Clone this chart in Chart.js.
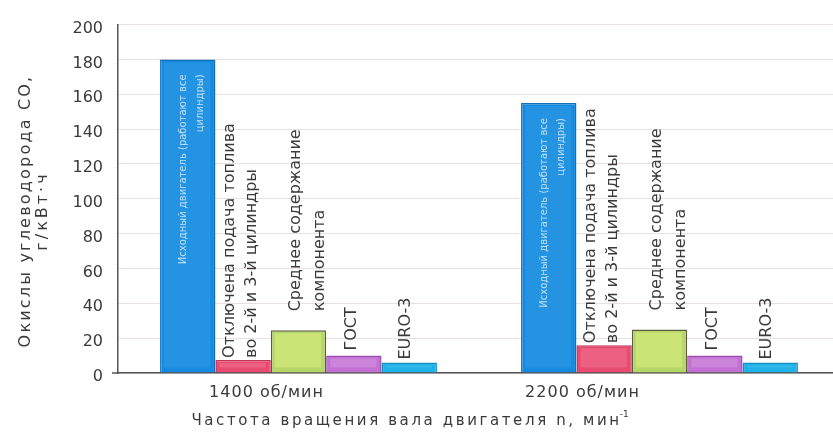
<!DOCTYPE html>
<html>
<head>
<meta charset="utf-8">
<script src="https://cdn.jsdelivr.net/npm/chart.js@4.4.1/dist/chart.umd.min.js"></script>
<style>
  html, body { margin: 0; padding: 0; background: #ffffff; overflow: hidden; }
  #wrap { width: 833px; height: 439px; overflow: hidden; }
</style>
</head>
<body>
<div id="wrap"><canvas id="c" width="840" height="439"></canvas></div>
<script>
// ---- data ----
const categories = ['1400 об/мин', '2200 об/мин'];
const seriesNames = [
  'Исходный двигатель (работают все цилиндры)',
  'Отключена подача топлива во 2-й и 3-й цилиндры',
  'Среднее содержание компонента',
  'ГОСТ',
  'EURO-3'
];
const seriesLabelLines = [
  ['Исходный двигатель (работают все', 'цилиндры)'],
  ['Отключена подача топлива', 'во 2-й и 3-й цилиндры'],
  ['Среднее содержание', 'компонента'],
  ['ГОСТ'],
  ['EURO-3']
];
const baseEngine   = [180, 155];
const cutOffFuel   = [7.5, 16];
const avgComponent = [24.5, 25];
const gost         = [10, 10];
const euro3        = [6, 6];
const yTicks = { min: 0, max: 200, step: 20 };
const yTitleLines = ['Окислы углеводорода СО,', 'г/кВт·ч'];
const xTitle = 'Частота вращения вала двигателя n, мин';
const xTitleSup = '-1';

// ---- styles ----
const FONT = '"DejaVu Sans", "Liberation Sans", Arial, sans-serif';
const TEXT = '#3a3a3a';
const fills   = ['#148be0', '#ea4a70', '#b5d76a', '#c46fd4', '#1fb2e8'];
const borders = ['#0f6fb8', '#c43358', '#5f5a40', '#9a4fae', '#1590c0'];
const highlights = ['rgba(255,255,255,0.07)', 'rgba(255,255,255,0.12)', 'rgba(240,255,140,0.35)', 'rgba(255,255,255,0.14)', 'rgba(255,255,255,0.1)'];
const labelShift = [4, -2, 9, -2, -3];
const labelGap   = [15, 2, 19, 5, 3];
const labelLineH = [17, 22, 24, 22, 22];
const catLabelOffset = [-32, -77];

const seriesValues = [baseEngine, cutOffFuel, avgComponent, gost, euro3];

const decorPlugin = {
  id: 'decor',
  beforeDatasetsDraw(chart) {
    const ctx = chart.ctx, a = chart.chartArea;
    ctx.save();
    ctx.strokeStyle = '#555';
    ctx.lineWidth = 1.5;
    ctx.beginPath();
    ctx.moveTo(112, a.bottom);
    ctx.lineTo(a.left, a.bottom);
    ctx.stroke();
    ctx.restore();
  },
  afterDatasetsDraw(chart) {
    const ctx = chart.ctx, a = chart.chartArea;
    const xs = chart.scales.x;
    ctx.save();
    // bevel highlight on bars
    chart.data.datasets.forEach((ds, di) => {
      const meta = chart.getDatasetMeta(di);
      meta.data.forEach(bar => {
        const w = bar.width, left = bar.x - w / 2, top = bar.y, h = bar.base - bar.y;
        if (h > 8) {
          ctx.fillStyle = highlights[di];
          ctx.fillRect(left + 4, top + 3, w - 9, h - 8);
        }
      });
    });
    // labels over bars
    chart.data.datasets.forEach((ds, di) => {
      const meta = chart.getDatasetMeta(di);
      const lines = seriesLabelLines[di];
      meta.data.forEach(bar => {
        ctx.save();
        if (di === 0) {
          ctx.translate(bar.x + labelShift[di], bar.y + labelGap[di]);
          ctx.rotate(-Math.PI / 2);
          ctx.font = '10px ' + FONT;
          ctx.fillStyle = 'rgba(255,255,255,0.72)';
          ctx.textAlign = 'right';
        } else {
          ctx.translate(bar.x + labelShift[di], bar.y - labelGap[di]);
          ctx.rotate(-Math.PI / 2);
          ctx.font = '16px ' + FONT;
          ctx.fillStyle = TEXT;
          ctx.textAlign = 'left';
        }
        ctx.textBaseline = 'middle';
        const n = lines.length;
        lines.forEach((t, k) => {
          ctx.fillText(t, 0, (k - (n - 1) / 2) * labelLineH[di]);
        });
        ctx.restore();
      });
    });
    // category labels
    ctx.font = '16px ' + FONT;
    ctx.fillStyle = TEXT;
    ctx.textAlign = 'center';
    ctx.textBaseline = 'middle';
    ctx.letterSpacing = '1px';
    categories.forEach((c, i) => {
      ctx.fillText(c, xs.getPixelForValue(i) + catLabelOffset[i], a.bottom + 20);
    });
    // x title
    ctx.font = '15px ' + FONT;
    ctx.letterSpacing = '2.6px';
    ctx.textAlign = 'left';
    const wMain = ctx.measureText(xTitle).width;
    ctx.font = '9px ' + FONT;
    ctx.letterSpacing = '0px';
    const wSup = ctx.measureText(xTitleSup).width;
    const startX = 411 - (wMain + wSup) / 2;
    ctx.font = '15px ' + FONT;
    ctx.letterSpacing = '2.6px';
    ctx.fillText(xTitle, startX, a.bottom + 48);
    ctx.font = '9px ' + FONT;
    ctx.letterSpacing = '0px';
    ctx.fillText(xTitleSup, startX + wMain - 2, a.bottom + 42);
    // y title
    ctx.save();
    ctx.translate(34, 211);
    ctx.rotate(-Math.PI / 2);
    ctx.font = '16px ' + FONT;
    ctx.textAlign = 'center';
    ctx.letterSpacing = '2.2px';
    ctx.fillText(yTitleLines[0], 0, -8);
    ctx.letterSpacing = '3px';
    ctx.fillText(yTitleLines[1], 0, 9);
    ctx.restore();
    ctx.restore();
  }
};

new Chart(document.getElementById('c'), {
  type: 'bar',
  data: {
    labels: categories,
    datasets: seriesValues.map((vals, i) => ({
      label: seriesNames[i],
      data: vals,
      backgroundColor: fills[i],
      borderColor: borders[i],
      borderWidth: 1.5,
      categoryPercentage: 0.767,
      barPercentage: 1.0
    }))
  },
  options: {
    responsive: false,
    animation: false,
    events: [],
    layout: { padding: { top: 22, left: 0, right: 0, bottom: 0 } },
    plugins: {
      legend: { display: false },
      tooltip: { enabled: false },
      title: { display: false }
    },
    scales: {
      x: {
        type: 'category',
        grid: { display: false, drawTicks: false },
        border: { display: true, color: '#555', width: 1.5 },
        ticks: { display: false },
        afterFit(scale) { scale.height = 439 - 373; }
      },
      y: {
        min: yTicks.min,
        max: yTicks.max,
        grid: { color: 'rgba(200,160,170,0.35)', lineWidth: 1, drawTicks: false },
        border: { display: true, color: '#555', width: 1.5 },
        ticks: {
          stepSize: yTicks.step,
          padding: 15,
          labelOffset: 4,
          color: TEXT,
          font: { family: FONT, size: 16 }
        },
        afterFit(scale) { scale.width = 118; }
      }
    }
  },
  plugins: [decorPlugin]
});
</script>
</body>
</html>
